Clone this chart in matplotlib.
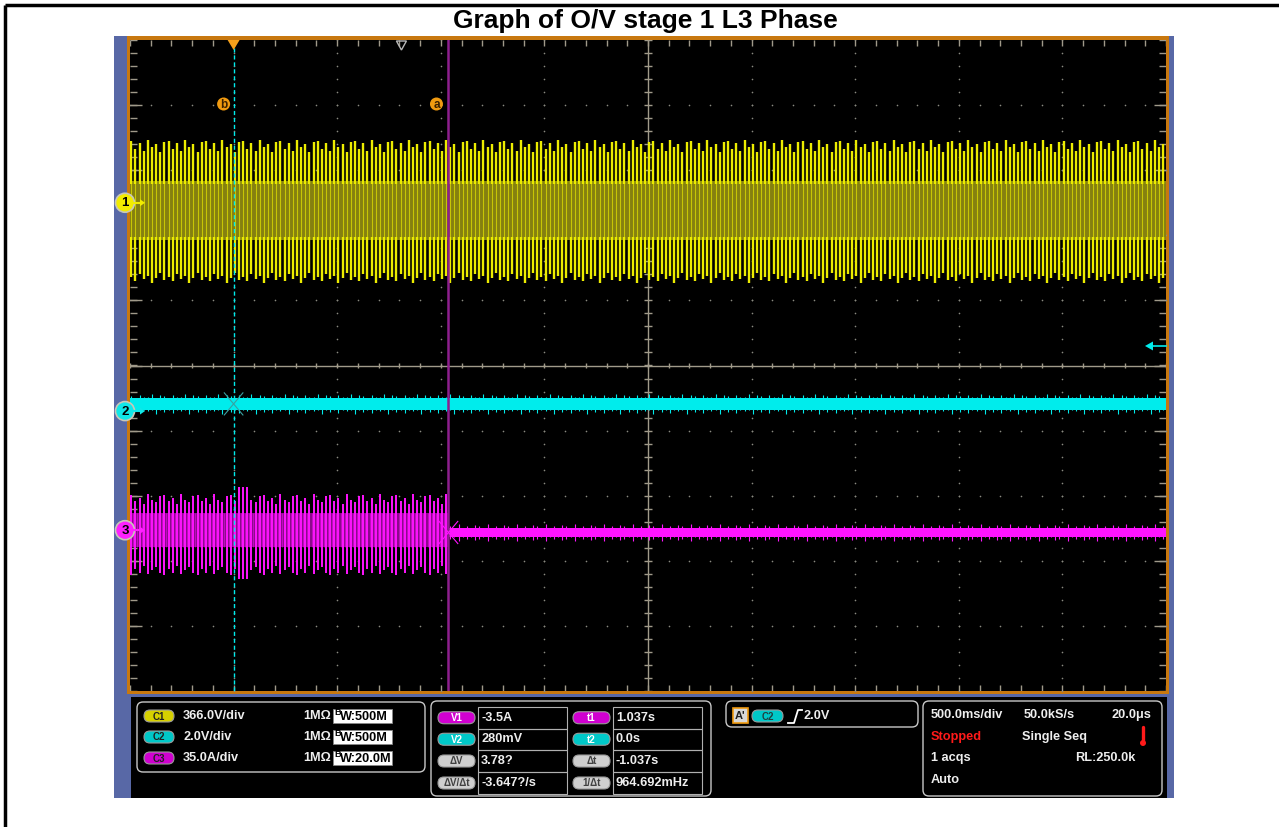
import numpy as np
import matplotlib
matplotlib.use("Agg")
import matplotlib.pyplot as plt
from matplotlib.patches import Rectangle, FancyBboxPatch, Circle, Polygon

plt.rcParams['font.family'] = ['Liberation Sans', 'DejaVu Sans']

# ---------------- data ----------------
title = "Graph of O/V stage 1 L3 Phase"
time_per_div_s = 0.5
t_start_s, t_end_s = -0.5, 4.5
line_freq_hz = 50.0

# CH1 (yellow, 366 V/div) envelope in divisions
ch1_peak_top = [3.45, 3.33, 3.42, 3.30, 3.47, 3.36, 3.40, 3.28, 3.44]
ch1_band_top = 2.83
ch1_band_bot = 1.93
ch1_peak_bot = [1.36, 1.30, 1.40, 1.33, 1.38, 1.27, 1.35, 1.42, 1.31]
ch1_marker_div = 2.50

# CH2 (cyan, 2 V/div)
ch2_band = (-0.68, -0.50)
ch2_noise_hi = [-0.47, -0.50, -0.45, -0.49, -0.48, -0.44, -0.50, -0.46]
ch2_noise_lo = [-0.71, -0.68, -0.73, -0.69, -0.70, -0.68, -0.74, -0.69]
ch2_marker_div = -0.70
trigger_level_div = 0.30

# CH3 (magenta, 35 A/div)
ch3_on_end_s = 1.037
ch3_peak_top = [-1.99, -2.08, -2.03, -2.12, -1.98, -2.06, -2.10, -2.01]
ch3_peak_bot = [-3.22, -3.12, -3.18, -3.08, -3.20, -3.14, -3.10, -3.19]
ch3_band = (-2.79, -2.27)
ch3_burst_s = (0.02, 0.075)
ch3_burst_top, ch3_burst_bot = -1.86, -3.28
ch3_off_band = (-2.63, -2.50)
ch3_off_noise_hi = [-2.46, -2.50, -2.44, -2.49, -2.47, -2.50, -2.45]
ch3_off_noise_lo = [-2.67, -2.63, -2.69, -2.64, -2.66, -2.63, -2.68]
ch3_marker_div = -2.53

cursor_a_s = 1.037
cursor_b_s = 0.0
delay_marker_s = 0.81

ch_labels = ["C1", "C2", "C3"]
ch_scales = ["366.0V/div", "2.0V/div", "35.0A/div"]
ch_bw = ["W:500M", "W:500M", "W:20.0M"]
meas_left = [("V1", "-3.5A"), ("V2", "280mV"), ("ΔV", "3.78?"), ("ΔV/Δt", "-3.647?/s")]
meas_right = [("t1", "1.037s"), ("t2", "0.0s"), ("Δt", "-1.037s"), ("1/Δt", "964.692mHz")]

# ---------------- colours ----------------
YEL = '#ecec00'
OLIVE = '#858010'
CYAN = '#00ecec'
MAG = '#ff14ff'
MAGD = '#8c0a8c'
ORANGE = '#c8780f'
BLUE = '#5868a6'
GRIDC = '#8a8a80'
AXC = '#a09a8a'

W, H = 1279, 827
fig = plt.figure(figsize=(W / 100, H / 100), dpi=100)

bg = fig.add_axes([0, 0, 1, 1], label='bg')
bg.set_xlim(0, W); bg.set_ylim(H, 0); bg.axis('off'); bg.set_zorder(0)

def rect(ax, x0, y0, x1, y1, **kw):
    ax.add_patch(Rectangle((x0, y0), x1 - x0, y1 - y0, **kw))

# outer frame lines and title
bg.plot([5, W], [5, 5], color='black', lw=2.5, solid_capstyle='butt')
bg.plot([5, 5], [5, H], color='black', lw=2.5, solid_capstyle='butt')
bg.text(645, 21, title, ha='center', va='center', fontsize=19, fontweight='bold')

# scope frame
rect(bg, 114, 36, 1174, 798, color=BLUE, lw=0)
rect(bg, 127, 36, 1169, 694, color=ORANGE, lw=0)
rect(bg, 131, 697, 1167, 798, color='black', lw=0)

# ---------------- data axes ----------------
L, R, T, B = 130, 1166, 40, 691
ax = fig.add_axes([L / W, 1 - B / H, (R - L) / W, (B - T) / H], label='data')
ax.set_zorder(1)
ax.set_facecolor('black')
ax.set_xlim(t_start_s, t_end_s)
ax.set_ylim(-5, 5)
ax.set_xticks([]); ax.set_yticks([])
for s in ax.spines.values():
    s.set_visible(False)

# grid dots on major lines
xmaj = np.arange(t_start_s + time_per_div_s, t_end_s - 1e-9, time_per_div_s)
ymaj = np.arange(-4, 5, 1)
xc = (t_start_s + t_end_s) / 2
xmin_ = np.arange(t_start_s, t_end_s + 1e-9, time_per_div_s / 5)
ymin_ = np.arange(-5, 5.0001, 0.2)
for x in xmaj:
    if abs(x - xc) < 1e-9:
        continue
    ax.scatter(np.full_like(ymin_, x), ymin_, s=1.4, color=GRIDC, lw=0, zorder=1)
for y in ymaj:
    if y == 0:
        continue
    ax.scatter(xmin_, np.full_like(xmin_, y), s=1.4, color=GRIDC, lw=0, zorder=1)
# centre axes with ticks
ax.axhline(0, color=AXC, lw=1.0, zorder=1)
ax.axvline(xc, color=AXC, lw=1.0, zorder=1)
ax.vlines(xmin_, -0.045, 0.045, color=AXC, lw=1.0, zorder=1)
ax.hlines(ymin_, xc - 0.018, xc + 0.018, color=AXC, lw=1.0, zorder=1)
# edge ticks
ax.vlines(xmin_, 5 - 0.09, 5, color=AXC, lw=1.0, zorder=1)
ax.vlines(xmin_, -5, -5 + 0.09, color=AXC, lw=1.0, zorder=1)
ax.hlines(ymin_, t_start_s, t_start_s + 0.035, color=AXC, lw=1.0, zorder=1)
ax.hlines(ymin_, t_end_s - 0.035, t_end_s, color=AXC, lw=1.0, zorder=1)
ax.hlines(ymaj, t_start_s, t_start_s + 0.06, color=AXC, lw=1.0, zorder=1)
ax.hlines(ymaj, t_end_s - 0.06, t_end_s, color=AXC, lw=1.0, zorder=1)

# cycle times of the mains waveform
cyc = np.arange(t_start_s + 0.006, t_end_s, 1 / line_freq_hz)
n = len(cyc)

# CH1 yellow
ax.fill_between([t_start_s, t_end_s], ch1_band_bot, ch1_band_top, color=OLIVE, lw=0, zorder=2)
ax.vlines(cyc, ch1_band_top - 0.04, np.resize(ch1_peak_top, n), color=YEL, lw=1.7, zorder=3)
ax.vlines(cyc, np.resize(ch1_peak_bot, n), ch1_band_bot + 0.04, color=YEL, lw=1.7, zorder=3)
ax.vlines(cyc, ch1_band_bot, ch1_band_top, color=YEL, lw=0.8, alpha=0.65, zorder=3)

# CH2 cyan
ax.fill_between([t_start_s, t_end_s], ch2_band[0], ch2_band[1], color=CYAN, lw=0, zorder=3)
ax.vlines(cyc, np.resize(ch2_noise_lo, n), np.resize(ch2_noise_hi, n), color=CYAN, lw=0.8, zorder=3)

# CH3 magenta: oscillating until cursor a, then flat
on = cyc < ch3_on_end_s
mc = cyc[on]
mt = np.resize(ch3_peak_top, len(mc)).astype(float)
mb = np.resize(ch3_peak_bot, len(mc)).astype(float)
burst = (mc > ch3_burst_s[0]) & (mc < ch3_burst_s[1])
mt[burst] = ch3_burst_top
mb[burst] = ch3_burst_bot
ax.fill_between([t_start_s, ch3_on_end_s], ch3_band[0], ch3_band[1], color=MAGD, lw=0, zorder=2)
ax.vlines(mc, mb, mt, color=MAG, lw=1.4, zorder=3)
ax.vlines(mc + 0.01, ch3_band[0], ch3_band[1], color=MAG, lw=0.6, alpha=0.5, zorder=3)
ax.fill_between([ch3_on_end_s, t_end_s], ch3_off_band[0], ch3_off_band[1], color=MAG, lw=0, zorder=3)
oc = cyc[~on]
ax.vlines(oc, np.resize(ch3_off_noise_lo, len(oc)), np.resize(ch3_off_noise_hi, len(oc)),
          color=MAG, lw=0.8, zorder=3)

# cursors
ax.axvline(cursor_a_s, color='#8e1f8e', lw=1.8, zorder=4)
ax.axvline(cursor_b_s, color=CYAN, lw=1.0, ls=(0, (3, 2)), zorder=4)
# cross marks at cursor/trace intersections
dx, dy = 0.045, 0.17
mid3 = sum(ch3_off_band) / 2
mid2 = sum(ch2_band) / 2
ax.plot([cursor_a_s - dx, cursor_a_s + dx], [mid3 - dy, mid3 + dy], color=MAG, lw=0.8, zorder=4)
ax.plot([cursor_a_s - dx, cursor_a_s + dx], [mid3 + dy, mid3 - dy], color=MAG, lw=0.8, zorder=4)
ax.plot([cursor_b_s - dx, cursor_b_s + dx], [mid2 - dy, mid2 + dy], color='#3aa0a0', lw=0.8, zorder=4)
ax.plot([cursor_b_s - dx, cursor_b_s + dx], [mid2 + dy, mid2 - dy], color='#3aa0a0', lw=0.8, zorder=4)

# ---------------- overlay (pixel coords) ----------------
ov = fig.add_axes([0, 0, 1, 1], label='ov')
ov.set_xlim(0, W); ov.set_ylim(H, 0); ov.axis('off'); ov.set_zorder(2)
ov.patch.set_visible(False)

def xpix(t):
    return L + (t - t_start_s) / (t_end_s - t_start_s) * (R - L)

def ypix(d):
    return (T + B) / 2 - d * (B - T) / 10

# top markers
xb = xpix(cursor_b_s)
ov.add_patch(Polygon([[xb - 6, 40], [xb + 6, 40], [xb, 50]], closed=True, color='#f5a01a', lw=0))
xd = xpix(delay_marker_s)
ov.add_patch(Polygon([[xd - 5, 41], [xd + 5, 41], [xd, 50]], closed=True, fill=False,
                     edgecolor='#b8b8b8', lw=1.0))
for lab, tt, off in [("b", cursor_b_s, -10), ("a", cursor_a_s, -12)]:
    cx = xpix(tt) + off
    ov.add_patch(Circle((cx, 104), 6.5, color='#f09a10', lw=0))
    ov.text(cx, 104.5, lab, ha='center', va='center', fontsize=8.5, fontweight='bold', color='#3a2000')

# trigger level arrow (right)
yt = ypix(trigger_level_div)
ov.add_patch(Polygon([[1145, yt], [1153, yt - 4.5], [1153, yt + 4.5]], closed=True, color=CYAN, lw=0))
ov.plot([1152, 1166], [yt, yt], color=CYAN, lw=1.2)

# channel markers (left)
for num, d, col in [("1", ch1_marker_div, '#f2ec00'), ("2", ch2_marker_div, '#10e8e8'), ("3", ch3_marker_div, '#ff20ff')]:
    y = ypix(d)
    ov.add_patch(Circle((125, y), 9.5, facecolor=col, edgecolor='#c8c8b8', lw=1.2, zorder=5))
    ov.text(125, y + 0.5, num, ha='center', va='center', fontsize=9.5, fontweight='bold', color='black', zorder=6)
    ov.plot([134, 141], [y, y], color=col, lw=1.5, zorder=5)
    ov.add_patch(Polygon([[140, y - 3.5], [145, y], [140, y + 3.5]], closed=True, color=col, lw=0, zorder=5))

# ---------------- bottom information panel ----------------
def rbox(x0, y0, x1, y1, ec='#c8c8c8', fc='none', r=6, lw=1.0):
    ov.add_patch(FancyBboxPatch((x0, y0), x1 - x0, y1 - y0,
                                boxstyle=f"round,pad=0,rounding_size={r}",
                                facecolor=fc, edgecolor=ec, lw=lw))

def pill(x0, x1, yc, fc, label, tc='black', h=12):
    rbox(x0, yc - h / 2, x1, yc + h / 2, ec='#9a9a9a', fc=fc, r=h / 2, lw=0.8)
    ov.text((x0 + x1) / 2, yc + 0.5, label, ha='center', va='center', fontsize=7,
            fontweight='bold', color=tc)

FS = 9.2
TXT = dict(color='#eeeeee', fontsize=FS, fontweight='bold', va='center')

rbox(137, 702, 425, 772)
rbox(431, 701, 711, 796)
rbox(726, 701, 918, 727)
rbox(923, 701, 1162, 796)

pill_cols = ['#d6d000', '#00c8c8', '#d000d0']
for i, y in enumerate([716, 737, 758]):
    pill(144, 174, y, pill_cols[i], ch_labels[i], tc='#202020')
    ov.text(183, y, ch_scales[i], ha='left', **TXT)
    ov.text(303, y, "1MΩ", ha='left', **TXT)
    rect(ov, 333, y - 7.5, 392, y + 6.5, facecolor='white', edgecolor='#888888', lw=0.6)
    ov.text(334.5, y - 3.5, "B", ha='left', va='center', fontsize=6.5, fontweight='bold', color='black')
    ov.text(339.5, y + 0.8, ch_bw[i], ha='left', va='center', fontsize=FS, fontweight='bold', color='black')

rows = [(707, 728.5), (728.5, 750), (750, 772), (772, 794)]
lcols = ['#d000d0', '#00c8c8', '#cfcfcf', '#cfcfcf']
rcols = ['#d000d0', '#00c8c8', '#cfcfcf', '#cfcfcf']
for i, (y0, y1) in enumerate(rows):
    yc = (y0 + y1) / 2
    rect(ov, 478, y0, 567, y1, fill=False, edgecolor='#b0b0b0', lw=0.8)
    rect(ov, 613, y0, 702, y1, fill=False, edgecolor='#b0b0b0', lw=0.8)
    pill(438, 475, yc, lcols[i], meas_left[i][0], tc='white' if i < 2 else '#404040')
    pill(573, 610, yc, rcols[i], meas_right[i][0], tc='white' if i < 2 else '#404040')
    ov.text(481, yc, meas_left[i][1], ha='left', **TXT)
    ov.text(616, yc, meas_right[i][1], ha='left', **TXT)

# trigger box
rect(ov, 733, 708, 748, 723, facecolor='#d8d8d8', edgecolor='#f09a10', lw=1.2)
ov.text(740.5, 716, "A'", ha='center', va='center', fontsize=8, fontweight='bold', color='#202020')
pill(752, 783, 716, '#00c8c8', "C2", tc='#204040')
ov.plot([788, 794, 798, 802], [723, 723, 710, 710], color='white', lw=1.3)
ov.text(804, 716, "2.0V", ha='left', **TXT)

# timebase box
ov.text(931, 715, "500.0ms/div", ha='left', **TXT)
ov.text(1024, 715, "50.0kS/s", ha='left', **TXT)
ov.text(1151, 715, "20.0μs", ha='right', **TXT)
ov.text(931, 737, "Stopped", ha='left', color='#ff1a1a', fontsize=FS, fontweight='bold', va='center')
ov.text(1022, 737, "Single Seq", ha='left', **TXT)
ov.plot([1143, 1143], [727, 741], color='#ff1a1a', lw=2.4, solid_capstyle='round')
ov.add_patch(Circle((1143, 743), 3, color='#ff1a1a', lw=0))
ov.text(931, 758, "1 acqs", ha='left', **TXT)
ov.text(1136, 758, "RL:250.0k", ha='right', **TXT)
ov.text(931, 780, "Auto", ha='left', **TXT)

fig.savefig("out.png", dpi=100)
